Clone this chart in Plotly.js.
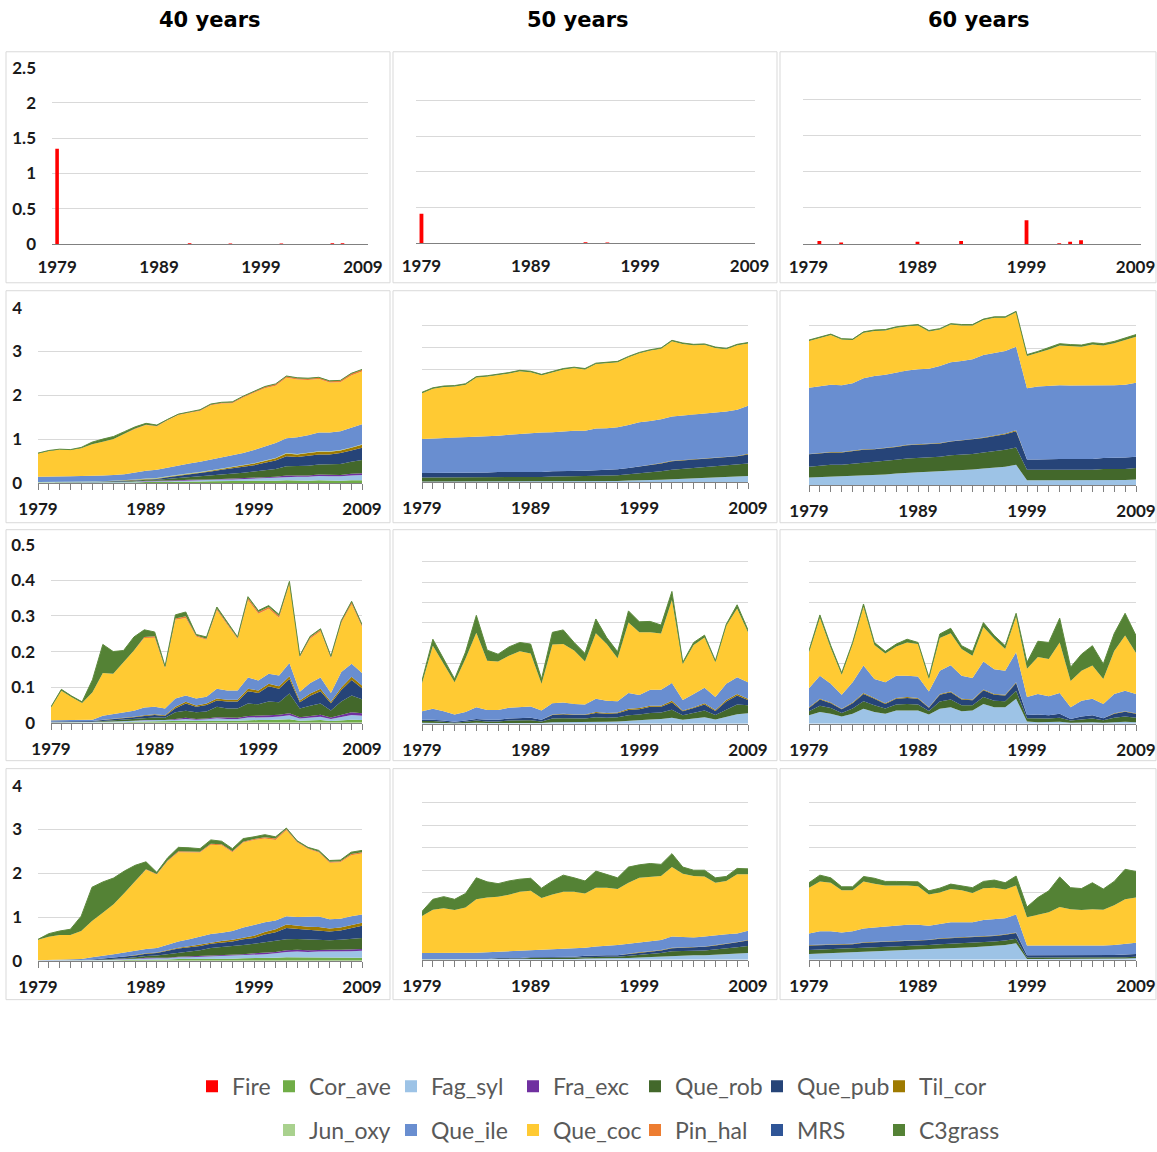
<!DOCTYPE html>
<html><head><meta charset="utf-8">
<script src="https://cdn.plot.ly/plotly-3.0.1.min.js"></script>
<style>html,body{margin:0;padding:0;background:#fff}#chart{width:1157px;height:1152px}</style>
</head><body><div id="chart"></div>
<script>
// ---------------- DATA ----------------
const years = [1979,1980,1981,1982,1983,1984,1985,1986,1987,1988,1989,1990,1991,1992,1993,1994,1995,1996,1997,1998,1999,2000,2001,2002,2003,2004,2005,2006,2007,2008,2009];
const columnTitles = ["40 years","50 years","60 years"];
const speciesNames = ["Cor_ave","Fag_syl","Fra_exc","Que_rob","Que_pub","Til_cor","Jun_oxy","Que_ile","Que_coc","Pin_hal","MRS","C3grass"];
const speciesColors = ["#70AD47","#9DC3E6","#7030A0","#43682B","#264478","#9E7A00","#A9D18E","#698ED0","#FFCA33","#ED7D31","#2F5597","#548235"];

// Row 1: fire
const fire40 = [1.35,0,0,0,0,0,0,0,0,0, 0,0,0,0.01,0,0,0,0.005,0,0, 0,0,0.005,0,0,0,0,0.01,0.01,0, 0];
const fire50 = [0.41,0,0,0,0,0,0,0,0,0, 0,0,0,0,0,0.01,0,0.005,0,0, 0,0,0,0,0,0,0,0,0,0, 0];
const fire60 = [0,0.04,0,0.02,0,0,0,0,0,0, 0.03,0,0,0,0.04,0,0,0,0,0, 0.33,0,0,0.01,0.03,0.05,0,0,0,0, 0];

// Row 2, 40 years
const a40_Cor_ave = [0,0,0,0,0,0,0,0.01,0.01,0.01, 0.02,0.02,0.02,0.03,0.03,0.03,0.04,0.04,0.04,0.04, 0.05,0.05,0.05,0.06,0.05,0.05,0.06,0.05,0.05,0.06, 0.06];
const a40_Fag_syl = [0.01,0.01,0.01,0.01,0.01,0.01,0.01,0.01,0.01,0.02, 0.02,0.02,0.02,0.02,0.03,0.03,0.03,0.04,0.04,0.05, 0.06,0.06,0.07,0.08,0.09,0.09,0.10,0.10,0.10,0.11, 0.12];
const a40_Fra_exc = [0,0,0,0,0,0,0,0,0,0, 0.01,0.01,0.01,0.01,0.01,0.01,0.01,0.01,0.02,0.02, 0.02,0.02,0.02,0.03,0.03,0.03,0.03,0.03,0.03,0.04, 0.04];
const a40_Que_rob = [0,0,0,0,0.01,0.01,0.01,0.01,0.01,0.02, 0.02,0.02,0.04,0.05,0.06,0.07,0.09,0.10,0.11,0.12, 0.13,0.16,0.18,0.21,0.21,0.22,0.23,0.24,0.25,0.27, 0.30];
const a40_Que_pub = [0,0,0,0,0,0,0.01,0.01,0.01,0.01, 0.01,0.02,0.04,0.05,0.06,0.08,0.09,0.11,0.12,0.14, 0.14,0.17,0.19,0.23,0.21,0.23,0.23,0.23,0.25,0.26, 0.28];
const a40_Til_cor = [0,0,0,0,0,0,0,0,0.01,0.01, 0.01,0.01,0.01,0.02,0.02,0.02,0.02,0.03,0.03,0.03, 0.04,0.04,0.05,0.06,0.06,0.06,0.06,0.06,0.06,0.06, 0.07];
const a40_Jun_oxy = [0.01,0.01,0.01,0.01,0.01,0.01,0.01,0.01,0.01,0.01, 0.01,0.01,0.01,0.01,0.01,0.01,0.01,0.01,0.01,0.01, 0.01,0.01,0.01,0.01,0.01,0.01,0.01,0.01,0.01,0.01, 0.01];
const a40_Que_ile = [0.12,0.12,0.13,0.13,0.13,0.13,0.13,0.13,0.14,0.16, 0.18,0.19,0.20,0.21,0.22,0.23,0.24,0.23,0.25,0.27, 0.30,0.32,0.34,0.34,0.38,0.40,0.43,0.43,0.43,0.45, 0.46];
const a40_Que_coc = [0.53,0.59,0.61,0.60,0.63,0.72,0.77,0.82,0.92,0.99, 1.04,0.99,1.08,1.15,1.16,1.16,1.24,1.24,1.20,1.27, 1.31,1.33,1.31,1.38,1.32,1.26,1.22,1.14,1.12,1.19, 1.20];
const a40_Pin_hal = [0,0,0,0,0,0,0,0,0,0.01, 0.01,0.01,0.01,0.01,0.01,0.02,0.02,0.02,0.02,0.02, 0.02,0.03,0.03,0.03,0.03,0.03,0.03,0.03,0.03,0.04, 0.04];
const a40_MRS = [0,0,0,0,0,0,0,0,0,0, 0,0,0,0,0,0,0,0,0,0, 0,0,0,0,0,0,0,0,0,0, 0];
const a40_C3grass = [0.01,0.01,0.01,0.01,0.02,0.05,0.06,0.06,0.05,0.04, 0.03,0.02,0.01,0.01,0.01,0.01,0.01,0.01,0.01,0.01, 0.01,0.01,0.01,0.01,0.01,0.01,0.01,0.01,0.01,0.01, 0.01];

// Row 2, 50 years
const a50_Fag_syl = [0.01,0.01,0.01,0.01,0.01,0.01,0.01,0.01,0.01,0.01, 0.01,0.01,0.01,0.01,0.02,0.02,0.02,0.02,0.02,0.03, 0.03,0.04,0.05,0.06,0.07,0.08,0.09,0.10,0.11,0.12, 0.13];
const a50_Que_rob = [0.09,0.09,0.09,0.09,0.09,0.10,0.10,0.10,0.10,0.10, 0.10,0.10,0.11,0.11,0.11,0.11,0.12,0.12,0.13,0.14, 0.16,0.17,0.19,0.21,0.22,0.23,0.23,0.24,0.25,0.26, 0.28];
const a50_Que_pub = [0.10,0.10,0.10,0.10,0.10,0.10,0.10,0.11,0.11,0.11, 0.11,0.11,0.12,0.12,0.12,0.12,0.12,0.13,0.13,0.14, 0.15,0.16,0.17,0.19,0.19,0.19,0.19,0.19,0.19,0.19, 0.20];
const a50_Til_cor = [0,0,0,0,0,0,0,0,0,0, 0,0,0,0,0,0,0,0,0,0, 0,0.01,0.01,0.01,0.01,0.01,0.01,0.01,0.01,0.01, 0.02];
const a50_Que_ile = [0.76,0.77,0.77,0.78,0.79,0.79,0.80,0.81,0.83,0.85, 0.86,0.88,0.87,0.89,0.89,0.89,0.93,0.93,0.94,0.96, 0.99,0.98,0.98,0.99,0.99,1.00,1.01,1.01,1.01,1.03, 1.07];
const a50_Que_coc = [1.02,1.11,1.15,1.15,1.18,1.33,1.34,1.35,1.37,1.40, 1.37,1.28,1.34,1.38,1.40,1.37,1.44,1.45,1.45,1.51, 1.54,1.57,1.57,1.68,1.60,1.54,1.53,1.44,1.39,1.44, 1.39];
const a50_C3grass = [0.02,0.02,0.02,0.02,0.02,0.02,0.02,0.02,0.02,0.02, 0.02,0.02,0.02,0.02,0.02,0.02,0.02,0.02,0.02,0.02, 0.02,0.02,0.02,0.02,0.02,0.02,0.02,0.02,0.02,0.02, 0.02];

// Row 2, 60 years
const a60_Fag_syl = [0.16,0.17,0.18,0.18,0.19,0.21,0.22,0.23,0.25,0.27, 0.28,0.29,0.30,0.32,0.33,0.34,0.36,0.38,0.40,0.44, 0.10,0.10,0.10,0.10,0.10,0.10,0.10,0.11,0.11,0.11, 0.12];
const a60_Que_rob = [0.24,0.25,0.26,0.26,0.27,0.28,0.28,0.29,0.30,0.31, 0.31,0.31,0.32,0.33,0.33,0.34,0.35,0.36,0.37,0.38, 0.23,0.23,0.23,0.23,0.23,0.23,0.23,0.24,0.24,0.24, 0.25];
const a60_Que_pub = [0.27,0.27,0.27,0.27,0.28,0.28,0.28,0.28,0.28,0.29, 0.29,0.29,0.29,0.30,0.31,0.32,0.32,0.33,0.34,0.36, 0.23,0.23,0.24,0.24,0.24,0.24,0.24,0.24,0.24,0.25, 0.25];
const a60_Til_cor = [0.01,0.01,0.01,0.01,0.01,0.01,0.01,0.01,0.01,0.01, 0.01,0.01,0.01,0.01,0.01,0.01,0.01,0.01,0.02,0.02, 0,0,0,0,0,0,0,0,0,0, 0];
const a60_Que_ile = [1.45,1.47,1.48,1.47,1.48,1.56,1.60,1.61,1.63,1.63, 1.65,1.65,1.69,1.73,1.74,1.75,1.81,1.82,1.81,1.83, 1.56,1.60,1.61,1.62,1.61,1.61,1.61,1.59,1.60,1.60, 1.62];
const a60_Que_coc = [1.03,1.06,1.09,1.00,0.95,1.00,0.99,0.97,0.98,0.97, 0.96,0.82,0.80,0.83,0.78,0.74,0.77,0.77,0.73,0.76, 0.71,0.74,0.79,0.87,0.86,0.85,0.90,0.88,0.92,0.98, 1.01];
const a60_C3grass = [0.02,0.02,0.02,0.02,0.02,0.02,0.02,0.02,0.02,0.02, 0.02,0.02,0.02,0.02,0.02,0.02,0.02,0.02,0.02,0.02, 0.03,0.03,0.04,0.04,0.04,0.04,0.04,0.04,0.04,0.05, 0.05];

// Row 3, 40 years
const b40_Cor_ave = [0,0,0,0,0,0.001,0.002,0.002,0.003,0.004, 0.004,0.004,0.005,0.006,0.005,0.006,0.007,0.006,0.006,0.008, 0.008,0.008,0.009,0.010,0.006,0.007,0.008,0.005,0.007,0.009, 0.008];
const b40_Fag_syl = [0.001,0.001,0.001,0.001,0.001,0.002,0.002,0.002,0.003,0.003, 0.003,0.003,0.004,0.005,0.004,0.004,0.006,0.005,0.005,0.007, 0.007,0.008,0.009,0.011,0.006,0.008,0.009,0.006,0.010,0.013, 0.012];
const b40_Fra_exc = [0,0,0,0,0,0,0,0,0,0.001, 0.001,0.001,0.002,0.003,0.002,0.002,0.003,0.003,0.003,0.004, 0.004,0.005,0.005,0.006,0.004,0.005,0.006,0.004,0.006,0.008, 0.007];
const b40_Que_rob = [0.001,0.001,0.001,0.001,0.002,0.002,0.003,0.004,0.004,0.005, 0.007,0.006,0.019,0.020,0.019,0.020,0.029,0.026,0.026,0.035, 0.033,0.039,0.035,0.055,0.024,0.028,0.031,0.020,0.037,0.047, 0.039];
const b40_Que_pub = [0.002,0.002,0.002,0.002,0.002,0.003,0.003,0.004,0.006,0.006, 0.007,0.005,0.011,0.020,0.015,0.018,0.018,0.020,0.020,0.035, 0.032,0.043,0.038,0.041,0.018,0.028,0.035,0.020,0.032,0.043, 0.031];
const b40_Til_cor = [0,0,0,0,0,0.001,0.001,0.001,0.001,0.002, 0.002,0.002,0.004,0.005,0.004,0.004,0.005,0.005,0.005,0.007, 0.007,0.007,0.007,0.008,0.005,0.006,0.007,0.004,0.007,0.009, 0.008];
const b40_Que_ile = [0.003,0.003,0.003,0.003,0.004,0.011,0.013,0.015,0.017,0.022, 0.021,0.019,0.023,0.018,0.019,0.019,0.028,0.026,0.026,0.031, 0.028,0.028,0.030,0.037,0.024,0.030,0.031,0.025,0.044,0.037, 0.035];
const b40_Que_coc = [0.036,0.083,0.065,0.049,0.077,0.120,0.114,0.142,0.169,0.195, 0.194,0.114,0.221,0.217,0.174,0.160,0.220,0.184,0.144,0.218, 0.187,0.182,0.162,0.222,0.097,0.124,0.130,0.097,0.137,0.167, 0.129];
const b40_Pin_hal = [0,0,0,0,0,0,0,0,0,0.003, 0.004,0.002,0.004,0.005,0.003,0.003,0.004,0.004,0.003,0.005, 0.005,0.005,0.005,0.004,0.002,0.004,0.004,0.003,0.004,0.005, 0.004];
const b40_C3grass = [0.002,0.004,0.003,0.003,0.035,0.080,0.062,0.033,0.038,0.020, 0.012,0.003,0.010,0.012,0.003,0.005,0.005,0.004,0.003,0.004, 0.004,0.004,0.004,0.003,0.003,0.003,0.003,0.003,0.003,0.003, 0.003];

// Row 3, 50 years
const b50_Fag_syl = [0.003,0.003,0.002,0.001,0.002,0.003,0.002,0.002,0.003,0.003, 0.003,0.002,0.004,0.004,0.004,0.004,0.005,0.005,0.006,0.008, 0.009,0.011,0.012,0.015,0.010,0.013,0.016,0.011,0.017,0.024, 0.026];
const b50_Que_rob = [0.004,0.004,0.003,0.002,0.003,0.005,0.004,0.004,0.005,0.006, 0.006,0.004,0.009,0.010,0.009,0.009,0.011,0.010,0.010,0.013, 0.014,0.016,0.016,0.020,0.011,0.014,0.017,0.011,0.019,0.024, 0.020];
const b50_Que_pub = [0.003,0.003,0.003,0.002,0.003,0.004,0.004,0.004,0.005,0.005, 0.006,0.004,0.009,0.010,0.009,0.009,0.011,0.010,0.010,0.013, 0.013,0.015,0.014,0.018,0.010,0.012,0.015,0.010,0.019,0.022, 0.013];
const b50_Til_cor = [0,0,0,0,0,0,0,0,0,0, 0,0,0.001,0.001,0.001,0.001,0.002,0.002,0.002,0.003, 0.003,0.003,0.003,0.004,0.002,0.002,0.003,0.002,0.004,0.004, 0.003];
const b50_Que_ile = [0.021,0.027,0.023,0.018,0.021,0.029,0.024,0.024,0.027,0.027, 0.028,0.023,0.028,0.028,0.026,0.025,0.033,0.030,0.028,0.039, 0.032,0.039,0.039,0.044,0.026,0.033,0.038,0.032,0.040,0.041, 0.041];
const b50_Que_coc = [0.069,0.156,0.117,0.080,0.132,0.184,0.122,0.120,0.128,0.138, 0.131,0.066,0.145,0.144,0.132,0.106,0.162,0.140,0.106,0.174, 0.155,0.142,0.139,0.205,0.089,0.121,0.124,0.086,0.143,0.170, 0.123];
const b50_C3grass = [0.007,0.016,0.012,0.008,0.016,0.043,0.026,0.018,0.022,0.022, 0.023,0.012,0.030,0.035,0.020,0.020,0.035,0.016,0.016,0.029, 0.026,0.027,0.021,0.021,0.004,0.006,0.006,0.004,0.004,0.009, 0.006];

// Row 3, 60 years
const b60_Fag_syl = [0.021,0.029,0.025,0.018,0.025,0.037,0.029,0.025,0.033,0.033, 0.033,0.023,0.037,0.041,0.031,0.033,0.049,0.041,0.041,0.062, 0.006,0.004,0.004,0.005,0.003,0.004,0.004,0.003,0.004,0.005, 0.004];
const b60_Que_rob = [0.010,0.016,0.014,0.009,0.013,0.019,0.017,0.013,0.015,0.016, 0.015,0.009,0.018,0.019,0.015,0.013,0.017,0.016,0.015,0.020, 0.008,0.010,0.009,0.010,0.005,0.007,0.009,0.006,0.011,0.013, 0.011];
const b60_Que_pub = [0.008,0.015,0.012,0.009,0.013,0.018,0.016,0.011,0.014,0.015, 0.014,0.008,0.017,0.018,0.014,0.012,0.017,0.015,0.014,0.019, 0.008,0.009,0.008,0.010,0.004,0.007,0.008,0.005,0.010,0.012, 0.010];
const b60_Til_cor = [0.002,0.002,0.002,0.001,0.002,0.002,0.002,0.002,0.002,0.002, 0.002,0.001,0.002,0.002,0.002,0.002,0.002,0.002,0.002,0.002, 0,0,0,0,0,0,0,0,0.001,0.001, 0.001];
const b60_Que_ile = [0.047,0.057,0.046,0.035,0.050,0.068,0.047,0.052,0.055,0.053, 0.053,0.039,0.057,0.065,0.057,0.053,0.069,0.061,0.059,0.074, 0.044,0.051,0.047,0.051,0.029,0.039,0.041,0.035,0.048,0.051, 0.048];
const b60_Que_coc = [0.089,0.143,0.088,0.049,0.094,0.145,0.084,0.071,0.072,0.082, 0.080,0.031,0.081,0.079,0.066,0.055,0.085,0.075,0.054,0.088, 0.070,0.091,0.092,0.125,0.065,0.074,0.082,0.062,0.106,0.136, 0.101];
const b60_C3grass = [0.004,0.007,0.006,0.005,0.004,0.007,0.006,0.005,0.006,0.008, 0.004,0.004,0.010,0.012,0.008,0.011,0.011,0.008,0.008,0.008, 0.016,0.039,0.041,0.060,0.034,0.041,0.049,0.037,0.043,0.055, 0.043];

// Row 4, 40 years
const c40_Cor_ave = [0,0,0,0,0,0.01,0.01,0.01,0.02,0.02, 0.03,0.03,0.03,0.04,0.04,0.04,0.05,0.05,0.05,0.06, 0.06,0.06,0.07,0.08,0.08,0.07,0.07,0.07,0.07,0.07, 0.07];
const c40_Fag_syl = [0.01,0.01,0.01,0.01,0.01,0.01,0.01,0.02,0.02,0.02, 0.03,0.03,0.03,0.04,0.04,0.05,0.05,0.06,0.06,0.07, 0.08,0.09,0.10,0.12,0.13,0.13,0.14,0.14,0.14,0.15, 0.16];
const c40_Fra_exc = [0,0,0,0,0,0,0,0,0.01,0.01, 0.01,0.01,0.01,0.01,0.02,0.02,0.02,0.02,0.02,0.02, 0.03,0.03,0.03,0.04,0.04,0.04,0.04,0.04,0.04,0.04, 0.04];
const c40_Que_rob = [0,0,0,0,0,0,0.01,0.01,0.01,0.03, 0.04,0.05,0.08,0.10,0.11,0.13,0.17,0.18,0.20,0.21, 0.22,0.24,0.25,0.25,0.25,0.25,0.24,0.22,0.23,0.24, 0.25];
const c40_Que_pub = [0,0,0,0,0.01,0.01,0.02,0.03,0.03,0.04, 0.05,0.06,0.08,0.09,0.10,0.10,0.10,0.11,0.11,0.13, 0.13,0.18,0.20,0.26,0.23,0.22,0.21,0.20,0.21,0.25, 0.28];
const c40_Til_cor = [0,0,0,0,0,0,0,0,0.01,0.01, 0.01,0.01,0.02,0.02,0.02,0.03,0.03,0.03,0.04,0.04, 0.05,0.06,0.07,0.08,0.07,0.07,0.07,0.07,0.07,0.07, 0.07];
const c40_Que_ile = [0.005,0.01,0.01,0.02,0.02,0.05,0.06,0.08,0.09,0.10, 0.10,0.10,0.11,0.14,0.16,0.18,0.19,0.19,0.20,0.23, 0.25,0.22,0.20,0.19,0.20,0.22,0.24,0.21,0.20,0.20, 0.19];
const c40_Que_coc = [0.465,0.53,0.57,0.56,0.64,0.83,0.99,1.14,1.36,1.59, 1.81,1.68,1.91,2.04,1.99,1.92,2.04,2.00,1.80,1.94, 1.94,1.91,1.84,1.96,1.70,1.55,1.46,1.29,1.29,1.39, 1.39];
const c40_Pin_hal = [0,0,0,0,0,0,0,0,0,0, 0.01,0.01,0.02,0.02,0.02,0.02,0.02,0.02,0.02,0.02, 0.02,0.03,0.03,0.03,0.02,0.02,0.02,0.02,0.02,0.03, 0.03];
const c40_C3grass = [0.01,0.07,0.09,0.13,0.34,0.77,0.70,0.60,0.50,0.36, 0.17,0.04,0.06,0.09,0.08,0.07,0.09,0.07,0.06,0.07, 0.05,0.06,0.04,0.02,0.02,0.02,0.03,0.03,0.03,0.04, 0.04];

// Row 4, 50 years
const c50_Fag_syl = [0.01,0.01,0.01,0.01,0.01,0.01,0.01,0.01,0.01,0.01, 0.02,0.02,0.02,0.02,0.02,0.03,0.03,0.03,0.03,0.04, 0.05,0.06,0.07,0.09,0.09,0.10,0.10,0.11,0.12,0.14, 0.15];
const c50_Que_rob = [0.01,0.01,0.01,0.01,0.01,0.01,0.01,0.02,0.02,0.02, 0.02,0.02,0.03,0.03,0.03,0.03,0.04,0.04,0.04,0.05, 0.06,0.07,0.08,0.10,0.10,0.10,0.11,0.12,0.13,0.14, 0.16];
const c50_Que_pub = [0,0,0,0,0,0,0,0.01,0.01,0.01, 0.02,0.02,0.02,0.02,0.02,0.03,0.03,0.03,0.03,0.04, 0.05,0.05,0.06,0.07,0.08,0.08,0.08,0.09,0.10,0.11, 0.12];
const c50_Til_cor = [0,0,0,0,0,0,0,0,0,0, 0,0,0,0,0,0,0,0,0,0.01, 0.01,0.01,0.01,0.01,0.01,0.01,0.01,0.01,0.01,0.01, 0.01];
const c50_Que_ile = [0.13,0.13,0.13,0.14,0.14,0.14,0.15,0.14,0.15,0.16, 0.15,0.16,0.16,0.17,0.19,0.18,0.20,0.21,0.23,0.22, 0.22,0.22,0.22,0.25,0.23,0.21,0.22,0.22,0.21,0.19, 0.21];
const c50_Que_coc = [0.83,0.97,1.00,0.95,1.01,1.19,1.22,1.23,1.26,1.32, 1.33,1.16,1.23,1.28,1.26,1.21,1.31,1.30,1.25,1.36, 1.44,1.44,1.43,1.55,1.41,1.37,1.34,1.17,1.19,1.32, 1.26];
const c50_C3grass = [0.10,0.23,0.26,0.24,0.31,0.48,0.35,0.29,0.31,0.28, 0.28,0.22,0.30,0.37,0.31,0.28,0.37,0.30,0.25,0.35, 0.29,0.30,0.26,0.30,0.15,0.13,0.14,0.11,0.10,0.13, 0.12];

// Row 4, 60 years
const c60_Fag_syl = [0.13,0.14,0.15,0.15,0.16,0.17,0.18,0.19,0.20,0.21, 0.22,0.23,0.25,0.26,0.27,0.28,0.30,0.31,0.33,0.37, 0.02,0.02,0.02,0.02,0.02,0.02,0.03,0.03,0.03,0.03, 0.04];
const c60_Que_rob = [0.09,0.09,0.09,0.09,0.09,0.10,0.10,0.10,0.10,0.10, 0.10,0.10,0.10,0.10,0.10,0.10,0.10,0.10,0.10,0.10, 0.03,0.03,0.03,0.03,0.03,0.03,0.03,0.03,0.03,0.03, 0.03];
const c60_Que_pub = [0.10,0.10,0.10,0.10,0.10,0.11,0.11,0.11,0.11,0.11, 0.11,0.11,0.12,0.12,0.12,0.12,0.12,0.12,0.13,0.13, 0.05,0.05,0.05,0.05,0.05,0.05,0.05,0.05,0.05,0.06, 0.06];
const c60_Til_cor = [0.01,0.01,0.01,0.01,0.01,0.01,0.01,0.01,0.01,0.01, 0.01,0.01,0.01,0.01,0.01,0.01,0.01,0.01,0.01,0.01, 0,0,0,0,0,0,0,0,0,0, 0];
const c60_Que_ile = [0.26,0.30,0.29,0.26,0.28,0.31,0.32,0.33,0.34,0.35, 0.34,0.31,0.32,0.35,0.34,0.33,0.36,0.37,0.36,0.40, 0.22,0.22,0.22,0.22,0.22,0.22,0.20,0.21,0.22,0.24, 0.25];
const c60_Que_coc = [1.02,1.11,1.08,0.94,0.91,1.05,0.98,0.92,0.90,0.88, 0.86,0.70,0.70,0.74,0.71,0.65,0.71,0.70,0.64,0.65, 0.63,0.68,0.74,0.86,0.81,0.79,0.82,0.80,0.89,0.99, 1.01];
const c60_C3grass = [0.11,0.14,0.11,0.08,0.08,0.11,0.12,0.09,0.09,0.09, 0.10,0.08,0.10,0.11,0.10,0.12,0.15,0.17,0.15,0.21, 0.23,0.39,0.48,0.67,0.48,0.48,0.59,0.46,0.53,0.67, 0.58];

// ---------------- BUILD ----------------
const W = 1157, H = 1152;
const fx = p => p / W;
const fy = p => 1 - p / H;

const tickFont = {family: "Lato, Liberation Sans, sans-serif", size: 17, color: "#1a1a1a", weight: "bold"};
const gridCol = "#D9D9D9";
const axisCol = "#808080";

// panel geometry in pixels: x [left,right], y [top,bottom]
const panels = [
  {row:1,col:1, kind:"fire", fire:fire40, x:[52,368],  y:[68,245],  yr:[0,2.5], dt:0.5, lab:true},
  {row:1,col:2, kind:"fire", fire:fire50, x:[416,755], y:[65,244],  yr:[0,2.5], dt:0.5, lab:false},
  {row:1,col:3, kind:"fire", fire:fire60, x:[803,1141],y:[64,245],  yr:[0,2.5], dt:0.5, lab:false},
  {row:2,col:1, kind:"area", x:[38,362],  y:[309,485], yr:[0,4], dt:1, lab:true,
    s:{Cor_ave:a40_Cor_ave,Fag_syl:a40_Fag_syl,Fra_exc:a40_Fra_exc,Que_rob:a40_Que_rob,Que_pub:a40_Que_pub,Til_cor:a40_Til_cor,Jun_oxy:a40_Jun_oxy,Que_ile:a40_Que_ile,Que_coc:a40_Que_coc,Pin_hal:a40_Pin_hal,MRS:a40_MRS,C3grass:a40_C3grass}},
  {row:2,col:2, kind:"area", x:[422,748], y:[304,484], yr:[0,4], dt:0.5, lab:false,
    s:{Fag_syl:a50_Fag_syl,Que_rob:a50_Que_rob,Que_pub:a50_Que_pub,Til_cor:a50_Til_cor,Que_ile:a50_Que_ile,Que_coc:a50_Que_coc,C3grass:a50_C3grass}},
  {row:2,col:3, kind:"area", x:[809,1136],y:[304,487], yr:[0,4], dt:0.5, lab:false,
    s:{Fag_syl:a60_Fag_syl,Que_rob:a60_Que_rob,Que_pub:a60_Que_pub,Til_cor:a60_Til_cor,Que_ile:a60_Que_ile,Que_coc:a60_Que_coc,C3grass:a60_C3grass}},
  {row:3,col:1, kind:"area", x:[51,362],  y:[547,726], yr:[0,0.5], dt:0.1, lab:true,
    s:{Cor_ave:b40_Cor_ave,Fag_syl:b40_Fag_syl,Fra_exc:b40_Fra_exc,Que_rob:b40_Que_rob,Que_pub:b40_Que_pub,Til_cor:b40_Til_cor,Que_ile:b40_Que_ile,Que_coc:b40_Que_coc,Pin_hal:b40_Pin_hal,C3grass:b40_C3grass}},
  {row:3,col:2, kind:"area", x:[422,748], y:[544,727], yr:[0,0.45], dt:0.05, lab:false,
    s:{Fag_syl:b50_Fag_syl,Que_rob:b50_Que_rob,Que_pub:b50_Que_pub,Til_cor:b50_Til_cor,Que_ile:b50_Que_ile,Que_coc:b50_Que_coc,C3grass:b50_C3grass}},
  {row:3,col:3, kind:"area", x:[809,1136],y:[544,727], yr:[0,0.45], dt:0.05, lab:false,
    s:{Fag_syl:b60_Fag_syl,Que_rob:b60_Que_rob,Que_pub:b60_Que_pub,Til_cor:b60_Til_cor,Que_ile:b60_Que_ile,Que_coc:b60_Que_coc,C3grass:b60_C3grass}},
  {row:4,col:1, kind:"area", x:[38,362],  y:[789,965], yr:[0,4], dt:1, lab:true,
    s:{Cor_ave:c40_Cor_ave,Fag_syl:c40_Fag_syl,Fra_exc:c40_Fra_exc,Que_rob:c40_Que_rob,Que_pub:c40_Que_pub,Til_cor:c40_Til_cor,Que_ile:c40_Que_ile,Que_coc:c40_Que_coc,Pin_hal:c40_Pin_hal,C3grass:c40_C3grass}},
  {row:4,col:2, kind:"area", x:[422,748], y:[784,964], yr:[0,4], dt:0.5, lab:false,
    s:{Fag_syl:c50_Fag_syl,Que_rob:c50_Que_rob,Que_pub:c50_Que_pub,Til_cor:c50_Til_cor,Que_ile:c50_Que_ile,Que_coc:c50_Que_coc,C3grass:c50_C3grass}},
  {row:4,col:3, kind:"area", x:[809,1136],y:[784,964], yr:[0,4], dt:0.5, lab:false,
    s:{Fag_syl:c60_Fag_syl,Que_rob:c60_Que_rob,Que_pub:c60_Que_pub,Til_cor:c60_Til_cor,Que_ile:c60_Que_ile,Que_coc:c60_Que_coc,C3grass:c60_C3grass}}
];

const traces = [];
const layout = {
  width: W, height: H, autosize: false,
  margin: {l:0, r:0, t:0, b:0, pad:0},
  paper_bgcolor: "#ffffff", plot_bgcolor: "rgba(0,0,0,0)",
  showlegend: true, hovermode: false, barmode: "overlay",
  annotations: [], shapes: []
};

// panel frames
const frameX = [[6,390],[393,777],[780,1156]];
const frameY = [[52,284],[292,525],[532,764],[772,1004]];
frameY.forEach(fyp => frameX.forEach(fxp => {
  layout.shapes.push({type:"rect", xref:"paper", yref:"paper", layer:"below",
    x0:fx(fxp[0]), x1:fx(fxp[1]), y0:fy(fyp[1]), y1:fy(fyp[0]),
    line:{color:"#D9D9D9", width:1}, fillcolor:"rgba(0,0,0,0)"});
}));

// column titles
const titleX = [210, 578, 979];
columnTitles.forEach((t,i) => layout.annotations.push({
  text: t, xref:"paper", yref:"paper", x: fx(titleX[i]), y: fy(20), xanchor:"center", yanchor:"middle",
  showarrow:false, font:{family:"DejaVu Sans, Verdana, sans-serif", size:21, color:"#000", weight:"bold"}
}));

panels.forEach((p, idx) => {
  const k = idx + 1;
  const xa = k === 1 ? "xaxis" : "xaxis" + k;
  const ya = k === 1 ? "yaxis" : "yaxis" + k;
  const xr = k === 1 ? "x" : "x" + k;
  const yr = k === 1 ? "y" : "y" + k;
  const isFire = p.kind === "fire";
  layout[xa] = {
    domain: [fx(p.x[0]), fx(p.x[1])], anchor: yr,
    range: isFire ? [1978.5, 2009.5] : [1979, 2009],
    tickmode: "linear", tick0: 1979, dtick: 10,
    showgrid: false, zeroline: false, showline: true, linecolor: axisCol, linewidth: 1,
    ticks: isFire ? "" : "outside", ticklen: 6, tickcolor: axisCol, tickwidth: 1,
    minor: isFire ? undefined : {dtick: 1, tick0: 1979, ticks: "outside", ticklen: 6, tickcolor: axisCol, tickwidth: 1, showgrid: false},
    tickfont: tickFont, ticklabelstandoff: isFire ? 8 : 5, ticklabeloverflow: "allow",
    automargin: false, fixedrange: true
  };
  layout[ya] = {
    domain: [fy(p.y[1]), fy(p.y[0])], anchor: xr,
    range: p.yr, tickmode: "linear", tick0: 0, dtick: p.dt,
    showgrid: true, gridcolor: gridCol, gridwidth: 1, zeroline: false, showline: false,
    showticklabels: p.lab, ticks: "", tickfont: tickFont, ticklabelstandoff: 15,
    ticklabeloverflow: "allow", automargin: false, fixedrange: true
  };
  if (isFire) {
    traces.push({type:"bar", x: years, y: p.fire, xaxis: xr, yaxis: yr, width: 0.35,
      marker:{color:"#FF0000", line:{width:0}}, name:"Fire", legend:"legend",
      showlegend: k === 1});
  } else {
    speciesNames.forEach((sp, si) => {
      if (!p.s[sp]) return;
      const isTop = sp === "C3grass";
      traces.push({type:"scatter", mode:"lines", x: years, y: p.s[sp], xaxis: xr, yaxis: yr,
        stackgroup: "g" + k, name: sp, fillcolor: speciesColors[si],
        line:{color: isTop ? "#5E8A3E" : speciesColors[si], width: isTop ? 1 : 0, shape:"linear"},
        showlegend: false, legendgroup: sp});
    });
  }
});

// legend swatches for the species (zero-height, invisible bars: legend keys only)
speciesNames.forEach((sp, si) => {
  traces.push({type:"bar", x: [years[0]], y: [0], xaxis:"x", yaxis:"y", name: sp, width: 0.01,
    marker:{color: speciesColors[si], line:{width:0}}, legendgroup: sp,
    legend: si < 6 ? "legend2" : "legend3", showlegend: true});
});

const legFont = {family:"Lato, Liberation Sans, sans-serif", size:23, color:"#595959"};
layout.legend  = {orientation:"h", x: fx(192), y: fy(1091), xanchor:"left", yanchor:"middle", font: legFont, bgcolor:"rgba(0,0,0,0)", itemclick:false};
layout.legend2 = {orientation:"h", x: fx(269), y: fy(1091), xanchor:"left", yanchor:"middle", font: legFont, bgcolor:"rgba(0,0,0,0)", entrywidth: 77, entrywidthmode:"pixels", itemclick:false};
layout.legend3 = {orientation:"h", x: fx(269), y: fy(1135), xanchor:"left", yanchor:"middle", font: legFont, bgcolor:"rgba(0,0,0,0)", entrywidth: 77, entrywidthmode:"pixels", itemclick:false};

Plotly.newPlot("chart", traces, layout, {displayModeBar:false, staticPlot:true});
</script>
</body></html>
